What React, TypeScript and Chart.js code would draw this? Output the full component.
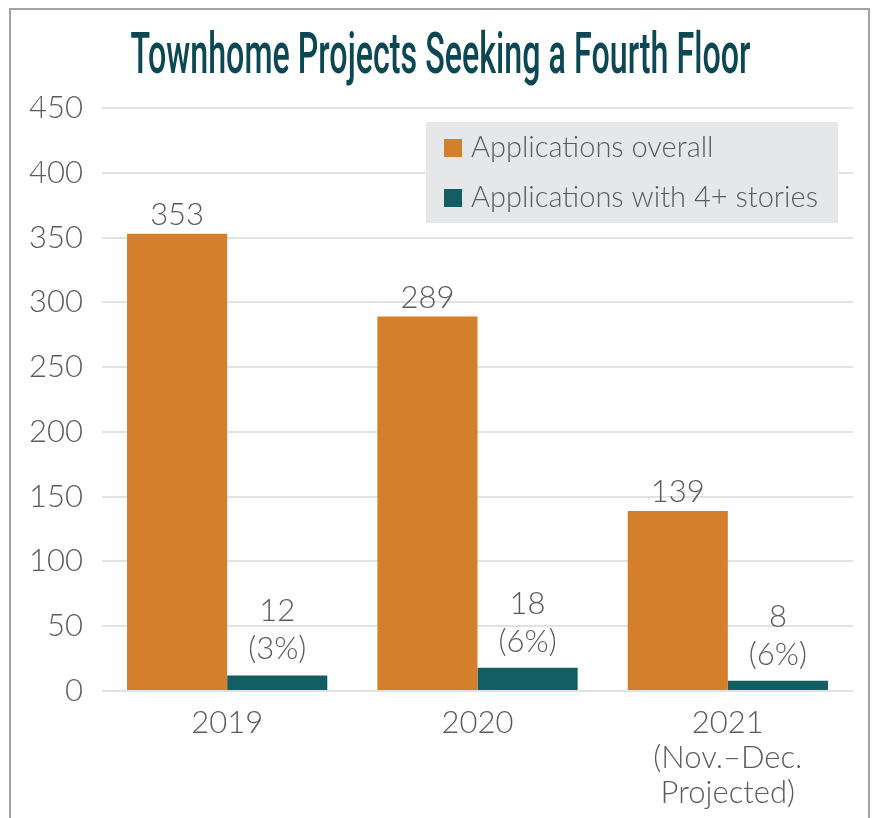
import React, { useEffect, useRef } from "react";
import { Chart, registerables } from "chart.js";

Chart.register(...registerables);

const titleText = "Townhome Projects Seeking a Fourth Floor";
const categories: string[][] = [["2019"], ["2020"], ["2021", "(Nov.–Dec.", "Projected)"]];
const seriesNames = ["Applications overall", "Applications with 4+ stories"];
const overall = [353, 289, 139];
const fourPlus = [12, 18, 8];
const fourPlusShare = ["(3%)", "(6%)", "(6%)"];
const yMin = 0;
const yMax = 450;
const yStep = 50;

const ORANGE = "#d47f2b";
const TEAL = "#135e63";
const TEXT = "#5b5b5b";
const FONT_FAMILY = "Lato, 'Noto Sans', sans-serif";

const framePlugin = {
  id: "frame",
  beforeDraw(chart: any) {
    const ctx = chart.ctx;
    ctx.save();
    ctx.fillStyle = "#ffffff";
    ctx.fillRect(0, 0, chart.width, chart.height);
    ctx.strokeStyle = "#a3a3a3";
    ctx.lineWidth = 2;
    ctx.strokeRect(10, 9, chart.width - 18, chart.height + 40);
    ctx.restore();
  },
};

const titlePlugin = {
  id: "condensedTitle",
  afterDraw(chart: any) {
    const ctx = chart.ctx;
    ctx.save();
    ctx.font = "500 58px Roboto, 'Noto Sans', sans-serif";
    ctx.fillStyle = "#0c4854";
    ctx.textBaseline = "alphabetic";
    ctx.textAlign = "left";
    const w = ctx.measureText(titleText).width;
    const target = 620;
    const sx = target / w;
    const cx = (chart.width + 4) / 2;
    ctx.translate(cx - target / 2, 73);
    ctx.scale(sx, 1);
    ctx.fillText(titleText, 0, 0);
    ctx.restore();
  },
};

const valueLabelPlugin = {
  id: "valueLabels",
  afterDatasetsDraw(chart: any) {
    const ctx = chart.ctx;
    ctx.save();
    ctx.font = `300 31px ${FONT_FAMILY}`;
    ctx.fillStyle = TEXT;
    ctx.textAlign = "center";
    ctx.textBaseline = "alphabetic";
    const m0 = chart.getDatasetMeta(0);
    m0.data.forEach((el: any, i: number) => {
      ctx.fillText(String(overall[i]), el.x, el.y - 9);
    });
    const m1 = chart.getDatasetMeta(1);
    m1.data.forEach((el: any, i: number) => {
      ctx.fillText(fourPlusShare[i], el.x, el.y - 16);
      ctx.fillText(String(fourPlus[i]), el.x, el.y - 16 - 38);
    });
    ctx.restore();
  },
};

const boxLegendPlugin = {
  id: "boxLegend",
  afterDatasetsDraw(chart: any) {
    const ctx = chart.ctx;
    const area = chart.chartArea;
    const bw = 412;
    const bh = 101;
    const bx = area.right - 15 - bw;
    const by = area.top + 14;
    ctx.save();
    ctx.fillStyle = "#e6e7e8";
    ctx.fillRect(bx, by, bw, bh);
    ctx.font = `300 29px ${FONT_FAMILY}`;
    ctx.textAlign = "left";
    ctx.textBaseline = "alphabetic";
    chart.data.datasets.forEach((ds: any, i: number) => {
      const rowY = by + 17 + i * 50;
      ctx.fillStyle = ds.backgroundColor;
      ctx.fillRect(bx + 18, rowY, 18, 18);
      ctx.fillStyle = TEXT;
      ctx.fillText(ds.label, bx + 45, rowY + 18);
    });
    ctx.restore();
  },
};

export default function App() {
  const ref = useRef<HTMLCanvasElement | null>(null);

  useEffect(() => {
    if (!ref.current) return;
    const chart = new Chart(ref.current, {
      type: "bar",
      data: {
        labels: categories,
        datasets: [
          {
            label: seriesNames[0],
            data: overall,
            backgroundColor: ORANGE,
            borderWidth: 0,
            categoryPercentage: 0.8,
            barPercentage: 1.0,
          },
          {
            label: seriesNames[1],
            data: fourPlus,
            backgroundColor: TEAL,
            borderWidth: 0,
            categoryPercentage: 0.8,
            barPercentage: 1.0,
          },
        ],
      },
      options: {
        responsive: false,
        animation: false,
        layout: { padding: { top: 108, right: 24, left: 0, bottom: 0 } },
        plugins: {
          legend: { display: false },
          title: { display: false },
          tooltip: { enabled: false },
        },
        scales: {
          x: {
            grid: { display: false, drawTicks: false },
            border: { display: false },
            ticks: {
              color: TEXT,
              padding: 14,
              font: { family: FONT_FAMILY, size: 31, weight: "300", lineHeight: 1.13 },
            },
            afterFit(scale: any) {
              scale.height = 127;
            },
          },
          y: {
            min: yMin,
            max: yMax,
            grid: { color: "#e2e2e2", lineWidth: 2, drawTicks: false },
            border: { display: false },
            ticks: {
              stepSize: yStep,
              color: TEXT,
              padding: 19,
              font: { family: FONT_FAMILY, size: 31, weight: "300" },
            },
            afterFit(scale: any) {
              scale.width = 102;
            },
          },
        },
      },
      plugins: [framePlugin, valueLabelPlugin, boxLegendPlugin, titlePlugin],
    });
    return () => chart.destroy();
  }, []);

  return (
    <div style={{ position: "absolute", left: 0, top: 0, width: 877, height: 818 }}>
      <canvas ref={ref} width={877} height={818} style={{ display: "block" }} />
    </div>
  );
}
